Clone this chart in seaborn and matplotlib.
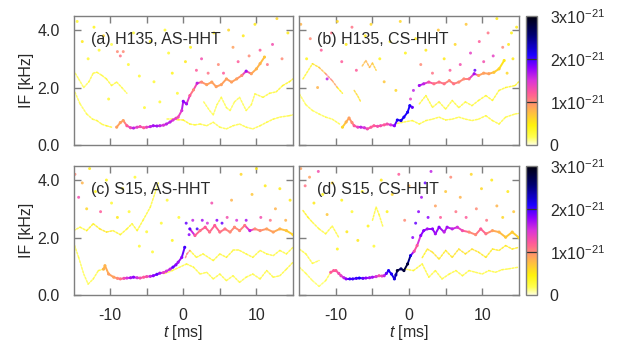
import numpy as np
import pandas as pd
import matplotlib
matplotlib.use("Agg")
import matplotlib.pyplot as plt
import seaborn as sns
from matplotlib.collections import LineCollection
from matplotlib.colors import LinearSegmentedColormap, Normalize
from matplotlib.cm import ScalarMappable

sns.set_theme(style="ticks")
plt.rcParams["font.family"] = ["Liberation Sans", "DejaVu Sans"]
plt.rcParams["mathtext.fontset"] = "custom"
plt.rcParams["mathtext.rm"] = "Liberation Sans"
plt.rcParams["mathtext.it"] = "Liberation Sans:italic"

# tracks are (t [ms], IF [kHz], amplitude [1e-21])
A_MAIN = [(-9.1, 0.62, 0.9), (-8.6, 0.78, 0.9), (-8.2, 0.85, 0.9), (-7.7, 0.67, 1.2), (-7.2, 0.60, 1.4),
          (-6.8, 0.59, 1.6), (-6.3, 0.62, 1.4), (-5.9, 0.64, 1.3), (-5.4, 0.60, 1.2), (-5.0, 0.62, 1.4),
          (-4.5, 0.64, 1.6), (-4.1, 0.67, 1.7), (-3.6, 0.66, 1.7), (-3.2, 0.67, 1.6), (-2.7, 0.69, 1.5),
          (-2.3, 0.73, 1.6), (-1.8, 0.80, 1.6), (-1.4, 0.87, 1.5), (-1.0, 0.93, 1.4), (-0.7, 0.97, 1.3),
          (-0.2, 1.20, 1.5), (0.0, 1.52, 1.8), (0.45, 1.43, 1.7), (0.9, 1.72, 1.2), (1.4, 1.92, 1.0),
          (1.9, 2.15, 1.6), (2.5, 2.19, 1.0), (3.2, 2.10, 0.9), (3.9, 2.19, 0.9), (4.5, 2.03, 0.9),
          (5.2, 2.10, 0.9), (5.9, 2.30, 0.9), (6.6, 2.19, 0.9), (7.3, 2.30, 0.9), (8.0, 2.42, 1.0),
          (8.6, 2.57, 1.7), (9.3, 2.48, 0.9), (10.0, 2.65, 0.8), (10.5, 2.83, 0.8), (11.1, 3.06, 0.7)]
A_FAINT = [
    [(-15, 1.95, 0.2), (-14.1, 1.43, 0.2), (-13.2, 1.08, 0.2), (-12.4, 0.90, 0.25), (-11.8, 0.85, 0.3),
     (-11.1, 0.72, 0.3), (-10.5, 0.67, 0.35), (-9.8, 0.62, 0.4)],
    [(-2.2, 0.90, 0.3), (-1.4, 0.90, 0.35), (-0.7, 0.88, 0.4), (0.0, 0.87, 0.4), (0.9, 0.73, 0.35),
     (1.6, 0.70, 0.3), (2.3, 0.73, 0.3), (3.2, 0.67, 0.3), (4.1, 0.79, 0.25), (5.0, 0.62, 0.25),
     (5.9, 0.56, 0.25), (6.8, 0.67, 0.3), (7.7, 0.73, 0.3), (8.6, 0.62, 0.25), (9.5, 0.56, 0.25),
     (10.5, 0.67, 0.25), (11.4, 0.79, 0.3), (12.3, 0.90, 0.3), (13.2, 0.97, 0.3), (14.5, 1.02, 0.3),
     (15, 1.05, 0.3)],
    [(2.8, 1.50, 0.25), (3.6, 1.20, 0.2), (4.1, 1.05, 0.2), (4.6, 1.40, 0.2), (5.2, 1.66, 0.25),
     (5.9, 1.30, 0.2), (6.4, 1.20, 0.2), (7.0, 1.50, 0.2), (7.7, 1.66, 0.25), (8.6, 1.20, 0.2),
     (9.3, 1.40, 0.2), (9.8, 1.78, 0.25), (10.9, 1.66, 0.3), (11.8, 1.80, 0.3), (12.7, 1.85, 0.35),
     (13.6, 2.07, 0.4), (14.5, 2.20, 0.4), (15, 2.30, 0.4)],
    [(-15, 2.60, 0.2), (-14.3, 2.30, 0.2), (-13.6, 2.00, 0.2), (-12.9, 2.20, 0.25), (-12.3, 2.50, 0.3),
     (-11.8, 2.53, 0.3), (-11.1, 2.42, 0.3), (-10.5, 2.30, 0.3), (-9.8, 2.07, 0.3), (-9.1, 2.19, 0.3),
     (-8.4, 2.00, 0.25), (-7.7, 1.80, 0.2)],
]
A_DOTS = [(-14.5, 4.3, 0.3), (-13.8, 3.6, 0.5), (-13.0, 3.0, 0.3), (-12.2, 4.1, 0.4), (-11.5, 3.3, 0.3),
          (-10.9, 3.8, 0.6), (-10.2, 1.6, 0.3), (-9.8, 3.5, 0.2), (-9.0, 3.25, 1.0), (-8.6, 3.1, 1.1),
          (-8.2, 3.25, 1.0), (-7.5, 2.8, 0.3), (-6.8, 3.9, 0.3), (-6.0, 2.4, 0.3), (-5.3, 1.3, 0.3),
          (-4.5, 3.6, 0.4), (-4.0, 2.2, 0.3), (-3.2, 1.5, 0.3), (-2.5, 4.0, 0.3), (-2.0, 3.2, 0.3),
          (-1.5, 2.5, 0.4), (-0.8, 1.8, 0.3), (0.3, 2.9, 0.5), (1.0, 3.4, 0.4), (1.8, 2.6, 1.2),
          (2.5, 3.0, 1.3), (3.4, 2.5, 1.1), (4.2, 3.9, 0.5), (4.8, 2.8, 1.0), (5.5, 2.5, 1.2),
          (6.2, 4.0, 0.6), (6.8, 3.4, 0.9), (7.5, 2.9, 1.2), (8.2, 3.8, 0.5), (9.0, 3.1, 1.0),
          (9.8, 4.2, 0.5), (10.5, 3.3, 1.2), (11.5, 2.8, 1.1), (12.2, 3.5, 1.3), (12.8, 4.4, 0.6),
          (13.5, 3.0, 1.0), (14.3, 3.9, 0.5)]

B_MAIN = [(-9.1, 0.62, 0.6), (-8.6, 0.80, 0.8), (-8.2, 0.94, 0.9), (-7.8, 0.78, 1.0), (-7.5, 0.67, 1.2),
          (-7.0, 0.62, 1.4), (-6.6, 0.62, 1.6), (-6.1, 0.60, 1.5), (-5.7, 0.56, 1.3), (-5.2, 0.62, 1.2),
          (-4.8, 0.67, 1.2), (-4.3, 0.65, 1.3), (-3.9, 0.67, 1.3), (-3.4, 0.70, 1.2), (-3.0, 0.73, 1.3),
          (-2.5, 0.70, 1.5), (-2.0, 0.67, 1.8), (-1.6, 0.87, 2.1), (-1.1, 0.85, 2.2), (-0.7, 0.97, 2.1),
          (-0.2, 1.14, 2.1), (0.1, 1.37, 2.1), (0.45, 1.31, 1.9)]
B_MAIN_HI = [(1.4, 2.07, 1.7), (2.0, 2.13, 1.6), (2.7, 2.19, 1.3), (3.4, 2.13, 1.1), (4.1, 2.19, 1.1),
             (4.8, 2.13, 1.1), (5.5, 2.24, 1.0), (6.1, 2.13, 1.1), (6.8, 2.19, 1.0), (7.5, 2.30, 1.0),
             (8.2, 2.30, 1.1), (8.9, 2.48, 1.7), (9.5, 2.42, 0.9), (10.2, 2.50, 0.9), (10.9, 2.48, 0.9),
             (11.6, 2.53, 0.7), (12.3, 2.65, 0.6), (13.0, 2.94, 0.5)]
B_FAINT = [
    [(-15, 1.78, 0.2), (-14.1, 1.40, 0.2), (-13.2, 1.20, 0.2), (-12.3, 1.08, 0.2), (-11.4, 0.97, 0.25),
     (-10.5, 0.90, 0.25), (-9.5, 0.73, 0.3)],
    [(-1.6, 0.75, 0.3), (-0.7, 0.80, 0.3), (0.45, 0.85, 0.3), (1.4, 0.73, 0.3), (2.3, 0.85, 0.3),
     (3.2, 0.90, 0.3), (4.1, 0.97, 0.3), (5.0, 0.87, 0.3), (5.9, 0.90, 0.3), (6.8, 0.97, 0.3),
     (7.7, 0.90, 0.3), (8.6, 0.85, 0.3), (9.5, 0.90, 0.3), (10.5, 1.02, 0.3), (11.4, 0.85, 0.3),
     (12.3, 0.73, 0.3), (13.2, 0.97, 0.3), (14.5, 1.08, 0.3), (15, 1.10, 0.3)],
    [(1.4, 1.43, 0.3), (2.3, 1.72, 0.35), (3.2, 1.31, 0.3), (4.1, 1.50, 0.3), (5.0, 1.25, 0.3),
     (5.9, 1.55, 0.3), (6.8, 1.30, 0.3), (7.7, 1.50, 0.3), (8.6, 1.37, 0.3), (9.5, 1.55, 0.3),
     (10.5, 1.72, 0.35), (11.4, 1.55, 0.3), (12.3, 1.90, 0.35), (13.2, 2.00, 0.35), (14.5, 2.07, 0.4),
     (15, 2.20, 0.4)],
    [(-14.5, 2.30, 0.2), (-13.2, 2.83, 0.5), (-12.3, 2.70, 0.6), (-11.4, 2.48, 0.9), (-10.5, 2.24, 1.2),
     (-9.8, 2.00, 0.6), (-9.1, 1.80, 0.3)],
    [(-6.4, 2.75, 0.7), (-5.9, 2.94, 0.8), (-5.4, 2.70, 0.8), (-5.0, 2.85, 0.7), (-4.5, 2.60, 0.6)],
    [(-7.5, 1.90, 0.6), (-7.0, 1.70, 0.6), (-6.6, 1.50, 0.5)],
]
B_DOTS = [(-14.8, 4.2, 0.8), (-14.0, 3.0, 0.4), (-13.5, 3.7, 1.0), (-12.5, 2.0, 0.8), (-12.0, 3.3, 1.2),
          (-11.2, 2.3, 1.6), (-10.6, 3.9, 1.1), (-9.8, 4.3, 0.6), (-9.2, 2.9, 1.2), (-8.6, 3.5, 0.5),
          (-7.8, 4.1, 1.1), (-7.2, 2.6, 1.2), (-6.0, 3.8, 0.5), (-5.2, 4.2, 0.6), (-4.0, 3.0, 0.4),
          (-3.4, 2.2, 0.7), (-2.6, 3.6, 0.4), (-1.8, 1.9, 0.6), (-1.2, 4.3, 0.6), (-0.5, 3.2, 0.4),
          (0.2, 1.6, 1.4), (0.6, 1.9, 1.6), (0.9, 3.7, 0.5), (1.6, 2.8, 1.0), (2.3, 3.3, 0.5),
          (3.2, 2.5, 1.1), (4.0, 4.0, 0.7), (4.8, 3.0, 0.5), (5.6, 2.6, 1.2), (6.3, 3.5, 0.6),
          (7.0, 2.8, 1.3), (7.8, 4.2, 0.7), (8.4, 3.2, 1.4), (9.0, 2.6, 1.9), (9.6, 3.6, 1.2),
          (10.2, 2.9, 1.3), (10.8, 3.9, 1.1), (11.5, 3.1, 1.4), (12.0, 4.4, 0.5), (12.8, 3.4, 1.0),
          (13.4, 2.5, 0.6), (13.6, 3.5, 0.5), (14.0, 3.9, 0.4), (14.2, 3.0, 0.5), (14.7, 4.1, 0.5)]

C_MAIN = [(-10.9, 0.90, 0.8), (-10.7, 1.02, 0.8), (-10.2, 0.73, 0.9), (-9.5, 0.62, 0.9), (-9.0, 0.58, 1.0),
          (-8.6, 0.56, 1.1), (-8.1, 0.58, 1.3), (-7.7, 0.59, 1.5), (-7.2, 0.60, 1.7), (-6.8, 0.62, 1.8),
          (-6.3, 0.60, 1.5), (-5.9, 0.59, 1.3), (-5.4, 0.62, 1.2), (-5.0, 0.64, 1.3), (-4.5, 0.65, 1.6),
          (-4.1, 0.67, 1.8), (-3.6, 0.72, 1.9), (-3.2, 0.76, 1.7), (-2.7, 0.78, 1.4), (-2.3, 0.83, 1.5),
          (-1.8, 0.90, 1.6), (-1.4, 0.97, 1.9), (-1.0, 1.05, 1.8), (-0.7, 1.14, 1.7), (-0.2, 1.31, 1.8),
          (0.2, 1.66, 2.0)]
C_MAIN_HI = [(0.9, 2.30, 1.9), (1.6, 2.07, 1.2), (2.3, 2.24, 1.1), (3.0, 2.36, 1.2), (3.6, 2.19, 1.1),
             (4.3, 2.42, 1.2), (5.0, 2.19, 1.1), (5.7, 2.30, 1.1), (6.4, 2.19, 1.0), (7.0, 2.36, 1.0),
             (7.7, 2.24, 1.0), (8.4, 2.42, 1.1), (9.1, 2.24, 1.6), (9.8, 2.30, 1.0), (10.5, 2.24, 1.0),
             (11.4, 2.30, 0.9), (12.3, 2.19, 0.9), (13.2, 2.30, 0.8), (14.1, 2.24, 0.7), (15.0, 2.10, 0.6)]
C_FAINT = [
    [(-15, 1.84, 0.2), (-14.3, 1.31, 0.2), (-13.6, 0.73, 0.2), (-13.0, 0.38, 0.2), (-12.3, 0.56, 0.25),
     (-11.6, 0.85, 0.3), (-10.9, 0.90, 0.4)],
    [(-2.5, 0.75, 0.3), (-1.5, 0.85, 0.3), (0.45, 1.08, 0.3), (1.4, 0.97, 0.3), (2.3, 0.73, 0.3),
     (3.2, 0.79, 0.3), (4.1, 0.56, 0.25), (5.0, 0.73, 0.3), (5.9, 0.50, 0.25), (6.8, 0.67, 0.25),
     (7.7, 0.44, 0.25), (8.6, 0.62, 0.25), (9.5, 0.73, 0.3), (10.5, 0.56, 0.25), (11.4, 0.85, 0.3),
     (12.3, 0.62, 0.3), (13.2, 0.67, 0.3), (14.1, 0.90, 0.3), (15, 1.14, 0.3)],
    [(0.9, 1.55, 0.4), (1.8, 1.31, 0.3), (2.7, 1.43, 0.35), (4.1, 1.20, 0.3), (5.0, 1.43, 0.35),
     (5.9, 1.31, 0.3), (6.8, 1.55, 0.4), (7.7, 1.55, 0.35), (8.6, 1.43, 0.3), (9.5, 1.31, 0.3),
     (10.5, 1.55, 0.35), (11.4, 1.43, 0.3), (12.3, 1.37, 0.3), (13.2, 1.55, 0.3), (14.1, 1.43, 0.3),
     (15, 1.66, 0.3)],
    [(-15, 2.24, 0.3), (-14.1, 2.36, 0.3), (-13.2, 2.24, 0.35), (-12.3, 2.48, 0.5), (-11.4, 2.30, 0.45),
     (-10.5, 2.19, 0.6), (-9.6, 2.24, 0.4), (-8.6, 2.10, 0.35), (-7.7, 2.30, 0.35), (-7.0, 2.48, 0.35),
     (-6.3, 2.24, 0.3), (-5.5, 2.60, 0.35), (-4.5, 3.06, 0.3), (-3.9, 3.52, 0.3), (-3.4, 3.90, 0.3)],
    [(0.3, 1.30, 1.0), (0.5, 1.43, 1.1), (0.9, 1.55, 1.0)],
]
C_DOTS = [(-14.8, 4.2, 1.0), (-14.3, 3.4, 1.3), (-13.8, 3.9, 0.8), (-13.2, 3.0, 0.6), (-12.8, 4.4, 0.5),
          (-12.0, 3.6, 0.4), (-11.3, 2.9, 1.2), (-10.5, 4.0, 0.4), (-9.8, 3.2, 0.3), (-9.0, 2.7, 0.5),
          (-8.3, 3.7, 0.4), (-7.4, 2.9, 0.3), (-6.6, 4.1, 0.3), (-6.0, 1.7, 0.3), (-5.0, 2.2, 0.3),
          (-4.2, 1.5, 0.3), (-3.0, 2.5, 0.3), (-2.2, 3.3, 0.3), (-1.5, 1.9, 0.4), (-0.6, 2.7, 0.3),
          (0.4, 2.5, 1.9), (0.8, 2.1, 1.8), (1.3, 2.6, 1.6), (1.9, 2.3, 2.0), (2.6, 2.6, 1.7),
          (3.3, 2.5, 1.5), (3.9, 3.2, 1.3), (4.6, 2.6, 1.8), (5.3, 2.5, 1.9), (6.0, 2.7, 1.3),
          (6.6, 3.3, 0.8), (7.3, 2.6, 1.5), (7.9, 4.2, 0.6), (8.6, 2.6, 1.7), (9.4, 3.5, 0.7),
          (10.0, 4.4, 0.5), (10.6, 2.7, 1.3), (11.2, 3.8, 0.5), (11.9, 2.6, 1.1), (12.6, 3.0, 0.8),
          (13.2, 3.7, 0.5), (14.0, 2.6, 0.8), (14.6, 3.3, 0.5)]

D_MAIN = [(-10.7, 0.79, 1.2), (-10.3, 0.85, 1.2), (-10.0, 0.85, 1.2), (-9.6, 0.75, 1.3), (-9.3, 0.67, 1.4),
          (-8.9, 0.60, 1.6), (-8.6, 0.56, 1.8), (-8.1, 0.56, 2.0), (-7.7, 0.56, 2.0), (-7.2, 0.58, 2.0),
          (-6.8, 0.59, 2.1), (-6.3, 0.58, 1.9), (-5.9, 0.59, 1.8), (-5.4, 0.60, 1.7), (-5.0, 0.62, 1.7),
          (-4.5, 0.64, 1.5), (-4.1, 0.67, 1.3), (-3.7, 0.66, 1.4), (-3.4, 0.67, 1.6), (-3.1, 0.75, 1.9),
          (-2.8, 0.85, 2.1), (-2.4, 0.73, 2.1), (-2.0, 0.56, 2.2), (-1.8, 0.70, 2.4), (-1.6, 0.85, 2.8),
          (-1.1, 0.91, 2.6), (-0.7, 0.85, 2.8), (-0.2, 1.08, 2.8), (0.2, 1.37, 2.2), (0.7, 1.52, 1.3),
          (1.1, 1.72, 1.2), (1.6, 2.07, 1.8), (2.0, 2.24, 1.8), (2.5, 2.30, 1.7), (3.2, 2.30, 1.8),
          (3.6, 2.13, 1.7), (4.1, 2.36, 1.8), (4.8, 2.19, 1.6), (5.2, 2.36, 1.7), (5.9, 2.30, 1.6),
          (6.6, 2.36, 1.5), (7.3, 2.24, 1.3), (8.2, 2.19, 1.0), (9.1, 2.10, 1.0), (9.8, 2.30, 1.2),
          (10.5, 2.13, 1.1), (11.4, 2.24, 0.9), (12.3, 2.19, 0.8), (13.2, 2.01, 0.7), (14.1, 2.19, 0.7),
          (15.0, 2.00, 0.6)]
D_FAINT = [
    [(-15, 0.97, 0.2), (-14.1, 0.75, 0.2), (-13.2, 0.50, 0.2), (-12.3, 0.30, 0.15), (-11.4, 0.50, 0.2),
     (-10.7, 0.79, 0.3)],
    [(-0.5, 0.90, 0.3), (0.6, 0.85, 0.35), (1.8, 1.08, 0.35), (2.7, 0.62, 0.3), (3.6, 0.85, 0.3),
     (4.5, 0.56, 0.3), (5.5, 0.73, 0.3), (6.4, 0.85, 0.3), (7.3, 0.67, 0.3), (8.2, 0.85, 0.3),
     (9.1, 0.79, 0.3), (10.0, 0.73, 0.3), (10.9, 0.85, 0.3), (11.8, 0.79, 0.3), (12.7, 0.88, 0.3),
     (13.6, 0.91, 0.3), (15, 0.97, 0.3)],
    [(1.8, 1.30, 0.4), (2.5, 1.60, 0.5), (3.2, 1.49, 0.6), (4.1, 1.25, 0.5), (5.0, 1.55, 0.5),
     (5.9, 1.31, 0.5), (6.8, 1.60, 0.6), (7.7, 1.43, 0.5), (8.6, 1.60, 0.6), (9.5, 1.49, 0.5),
     (10.5, 1.31, 0.5), (11.4, 1.60, 0.5), (12.3, 1.55, 0.5), (13.2, 1.72, 0.5), (14.1, 1.60, 0.5),
     (15, 1.66, 0.5)],
    [(-15, 1.60, 0.3), (-14.1, 1.43, 0.3), (-13.2, 1.10, 0.25), (-12.3, 1.20, 0.25)],
    [(-14.5, 2.94, 0.5), (-13.8, 2.70, 0.4), (-13.2, 2.53, 0.35), (-12.3, 2.30, 0.3), (-11.4, 2.13, 0.3),
     (-10.5, 2.40, 0.3), (-9.6, 2.00, 0.3)],
    [(-5.0, 2.60, 0.3), (-4.5, 3.06, 0.35), (-4.1, 2.80, 0.3), (-3.6, 2.40, 0.3)],
]
D_DOTS = [(-14.8, 4.4, 0.9), (-14.2, 3.8, 1.1), (-13.6, 4.1, 0.9), (-13.0, 3.2, 0.5), (-12.4, 4.3, 1.3),
          (-11.8, 3.5, 0.4), (-11.2, 2.8, 0.7), (-10.5, 3.9, 0.6), (-9.8, 1.6, 0.4), (-9.2, 3.3, 0.4),
          (-8.5, 2.2, 0.5), (-7.8, 2.9, 0.3), (-7.0, 1.9, 0.5), (-6.4, 3.6, 0.4), (-5.6, 2.4, 0.4),
          (-4.8, 1.7, 0.3), (-3.8, 4.0, 0.5), (-3.0, 2.9, 0.4), (-2.3, 3.5, 0.6), (-1.4, 4.2, 1.2),
          (-0.6, 2.6, 1.0), (0.0, 3.8, 0.8), (0.5, 2.0, 1.8), (0.9, 2.5, 1.9), (1.3, 2.9, 1.8),
          (1.7, 3.4, 1.7), (2.2, 3.9, 1.9), (2.6, 2.7, 1.8), (3.0, 4.3, 1.6), (3.6, 3.1, 0.9),
          (4.3, 2.7, 1.2), (5.0, 3.6, 0.7), (5.7, 4.1, 1.0), (6.4, 2.9, 1.1), (7.0, 3.4, 0.8),
          (7.8, 2.7, 1.2), (8.5, 4.2, 0.6), (9.2, 3.0, 1.0), (9.9, 3.7, 0.6), (10.6, 2.6, 1.1),
          (11.3, 4.0, 0.5), (12.0, 3.1, 0.8), (12.8, 2.7, 0.6), (13.5, 3.6, 0.5), (14.3, 2.9, 0.7)]

TITLES = ["(a) H135, AS-HHT", "(b) H135, CS-HHT", "(c) S15, AS-HHT", "(d) S15, CS-HHT"]
CBAR_TICKS = [0, 1, 2, 3]
CBAR_LABELS = ["0", "1x10$^{-21}$", "2x10$^{-21}$", "3x10$^{-21}$"]

# gnuplot-like palette: pale yellow -> orange -> pink -> purple -> blue -> black
CMAP = LinearSegmentedColormap.from_list("amp", [
    (0.00, (1.00, 1.00, 0.85)), (0.06, (1.00, 1.00, 0.30)), (0.15, (1.00, 0.95, 0.05)),
    (0.27, (1.00, 0.70, 0.30)), (0.33, (1.00, 0.55, 0.45)), (0.40, (1.00, 0.35, 0.60)),
    (0.50, (0.85, 0.20, 0.85)), (0.60, (0.55, 0.00, 1.00)), (0.70, (0.10, 0.00, 1.00)),
    (0.85, (0.00, 0.00, 0.45)), (1.00, (0.00, 0.00, 0.05))])
NORM = Normalize(0, 3)

GRAY = "#7f7f7f"
TXT = "#2a2a2a"


def draw_track(ax, pts, lw, alpha, z, ls="-"):
    arr = np.array(pts)
    segs = np.stack([arr[:-1, :2], arr[1:, :2]], axis=1)
    lc = LineCollection(segs, cmap=CMAP, norm=NORM, linewidths=lw, alpha=alpha,
                        zorder=z, capstyle="round", linestyles=ls)
    lc.set_array((arr[:-1, 2] + arr[1:, 2]) / 2)
    ax.add_collection(lc)


panels = [
    ([A_MAIN], A_FAINT, A_DOTS),
    ([B_MAIN, B_MAIN_HI], B_FAINT, B_DOTS),
    ([C_MAIN, C_MAIN_HI], C_FAINT, C_DOTS),
    ([D_MAIN], D_FAINT, D_DOTS),
]

W, H = 618, 342
fig = plt.figure(figsize=(W / 100, H / 100), dpi=100)
lefts = [73.5, 299.3]
tops = [15.7, 165.7]
ax_w, ax_h = 219.5, 129.3

for i, (mains, faints, dots) in enumerate(panels):
    r, c = divmod(i, 2)
    ax = fig.add_axes([lefts[c] / W, 1 - (tops[r] + ax_h) / H, ax_w / W, ax_h / H])

    for tr in faints:
        draw_track(ax, tr, 1.1, 0.8, 1, ls=(0, (1.3, 1.0)))
    dots_df = pd.DataFrame(dots, columns=["t", "f", "amp"])
    sns.scatterplot(data=dots_df, x="t", y="f", hue="amp", palette=CMAP, hue_norm=NORM,
                    s=4.5, linewidth=0, alpha=0.85, legend=False, ax=ax, zorder=2)
    for tr in mains:
        draw_track(ax, tr, 1.4, 1.0, 3)
    main_df = pd.DataFrame([p for tr in mains for p in tr], columns=["t", "f", "amp"])
    sns.scatterplot(data=main_df, x="t", y="f", hue="amp", palette=CMAP, hue_norm=NORM,
                    s=5, linewidth=0, legend=False, ax=ax, zorder=4)

    ax.set_xlim(-15, 15)
    ax.set_ylim(0, 4.5)
    ax.set_xticks([-10, 0, 10])
    ax.set_xticks([-5, 5], minor=True)
    ax.set_yticks([0, 2, 4])
    ax.tick_params(which="both", direction="in", length=5, width=1, color=GRAY,
                   top=True, right=True, labelsize=11.5, labelcolor=TXT)
    ax.tick_params(axis="x", pad=9.5)
    ax.tick_params(axis="y", pad=10)
    for sp in ax.spines.values():
        sp.set_color(GRAY)
        sp.set_linewidth(1.0)

    if r == 0:
        ax.set_xticklabels([])
        ax.set_xlabel("")
    else:
        ax.set_xticklabels(["-10", "0", "10"])
        ax.set_xlabel("$t$ [ms]", fontsize=11.5, color=TXT, labelpad=0)
    if c == 0:
        ax.set_yticklabels(["0.0", "2.0", "4.0"])
        ax.set_ylabel("IF [kHz]", fontsize=11.5, color=TXT, labelpad=2)
    else:
        ax.set_yticklabels([])
        ax.set_ylabel("")

    ax.text(0.082, 0.815, TITLES[i], transform=ax.transAxes, fontsize=11.5,
            color=TXT, va="center", ha="left", zorder=6)

# one colour bar per row
for r in range(2):
    cax = fig.add_axes([526 / W, 1 - (tops[r] + ax_h) / H, 11 / W, ax_h / H])
    cb = fig.colorbar(ScalarMappable(norm=NORM, cmap=CMAP), cax=cax)
    cb.set_ticks(CBAR_TICKS)
    cb.set_ticklabels(CBAR_LABELS)
    cb.outline.set_edgecolor(GRAY)
    cb.outline.set_linewidth(1.0)
    cax.tick_params(length=0, pad=9, labelsize=11.5, labelcolor=TXT)
    for v in [1, 2]:
        cax.axhline(v, color="#333333", lw=0.9)

fig.savefig("out.png", dpi=100)
